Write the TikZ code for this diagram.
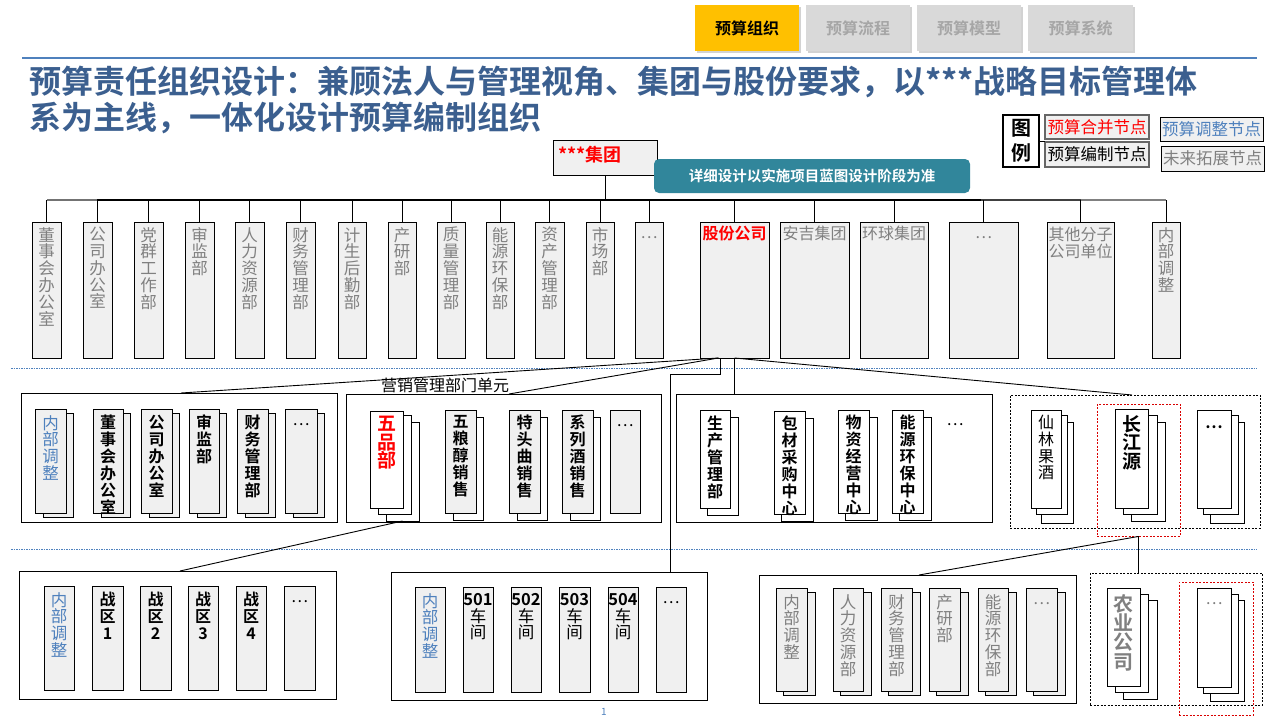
\documentclass[tikz,border=0pt]{standalone}
\usepackage{fontspec}
\setmainfont{Noto Sans CJK SC}[BoldFont={Noto Sans CJK SC Bold}]
\usetikzlibrary{shadows,calc}
\definecolor{ttlc}{RGB}{59,95,143}
\definecolor{lblue}{RGB}{79,129,189}
\definecolor{gtxt}{RGB}{128,128,128}
\definecolor{bfill}{RGB}{240,240,240}
\definecolor{tealc}{RGB}{49,134,155}
\definecolor{tabgold}{RGB}{255,192,0}
\definecolor{tabgray}{RGB}{217,217,217}
\definecolor{tabtxt}{RGB}{166,166,166}
\definecolor{sepblue}{RGB}{79,129,189}
\newcommand\bx[6][]{\node[bxs,minimum width={(#4)-(#2)},minimum height={(#5)-(#3)},#1] (#6) at ({((#2)+(#4))/2},{((#3)+(#5))/2}) {};}
\tikzset{
 bxs/.style={draw, line width=0.85pt, fill=bfill, inner sep=0pt, outer sep=0pt},
 wbx/.style={fill=white},
 grp/.style={fill=white, line width=0.95pt},
 dgrp/.style={fill=white, line width=0.9pt, dash pattern=on 2pt off 1.5pt},
 rdash/.style={fill=none, draw=red!85!black, line width=0.9pt, dash pattern=on 2pt off 1.5pt},
 tabbox/.style={draw=none, drop shadow={shadow xshift=1.5pt, shadow yshift=-1.5pt, opacity=0.35}},
 vtg/.style={inner sep=0pt, align=center, text=gtxt, font=\fontsize{16.5}{16.8}\selectfont},
 vtb/.style={inner sep=0pt, align=center, font=\bfseries\fontsize{16}{17}\selectfont},
 vtl/.style={inner sep=0pt, align=center, text=lblue, font=\fontsize{16.5}{16.8}\selectfont},
 vtr/.style={inner sep=0pt, align=center, text=red, font=\bfseries\fontsize{19}{18.5}\selectfont},
 vtB/.style={inner sep=0pt, align=center, font=\bfseries\fontsize{19}{18.5}\selectfont},
 vtG/.style={inner sep=0pt, align=center, text=gtxt, font=\bfseries\fontsize{20}{19.3}\selectfont},
 ttl/.style={inner sep=0pt, text=ttlc, font=\bfseries\fontsize{32}{36}\selectfont},
 lgt/.style={inner sep=0pt, font=\fontsize{16.5}{18}\selectfont},
 sep/.style={draw=sepblue, line width=1pt, dash pattern=on 1.5pt off 1pt},
 con/.style={draw, line width=0.9pt},
 dots/.style={inner sep=0pt, font=\fontsize{16}{16}\selectfont},
}
\begin{document}
\begin{tikzpicture}[x=1pt,y=-1pt]
\useasboundingbox[fill=white] (0,0) rectangle (1280,720);

% ---------- tabs
\bx[tabbox,fill=tabgold]{695}{5}{799}{51}{tab1}
\bx[tabbox,fill=tabgray]{806}{5}{910}{51}{tab2}
\bx[tabbox,fill=tabgray]{917}{5}{1021}{51}{tab3}
\bx[tabbox,fill=tabgray]{1028}{5}{1133}{51}{tab4}
\node[font=\bfseries\fontsize{16}{18}\selectfont] (tab1t) at (tab1) {预算组织};
\node[font=\bfseries\fontsize{16}{18}\selectfont,text=tabtxt] (tab2t) at (tab2) {预算流程};
\node[font=\bfseries\fontsize{16}{18}\selectfont,text=tabtxt] (tab3t) at (tab3) {预算模型};
\node[font=\bfseries\fontsize{16}{18}\selectfont,text=tabtxt] (tab4t) at (tab4) {预算系统};

\draw[draw=sepblue,line width=1.2pt] (22,58) -- (1257,58);

% ---------- title
\node[ttl,anchor=base west] (ttl1) at (29,93) {预算责任组织设计：兼顾法人与管理视角、集团与股份要求，以***战略目标管理体};
\node[ttl,anchor=base west] (ttl2) at (29,129) {系为主线，一体化设计预算编制组织};

% ---------- legend
\bx[fill=white,line width=2.6pt]{1003}{115}{1039}{167}{lgd}
\node[inner sep=0pt,align=center,font=\bfseries\fontsize{20}{25}\selectfont] (lgdt) at (lgd) {图\\例};
\bx[fill=bfill,draw=black!60,line width=1.6pt]{1045}{115}{1149}{139}{lg1}
\bx[fill=bfill,draw=black!60,line width=1.6pt]{1045}{142}{1149}{167}{lg2}
\bx[fill=bfill]{1160}{117}{1263}{141}{lg3}
\bx[fill=bfill]{1161}{146}{1264}{171}{lg4}
\node[lgt,text=red] (lg1t) at (lg1) {预算合并节点};
\node[lgt] (lg2t) at (lg2) {预算编制节点};
\node[lgt,text=lblue] (lg3t) at (lg3) {预算调整节点};
\node[lgt,text=gtxt] (lg4t) at (lg4) {未来拓展节点};
\draw[con] (lgd.east) -- (lgd.east -| lg1.west);

% ---------- group head
\bx{553}{140}{657}{175}{jt}
\node[anchor=north west,inner sep=0pt,text=red,font=\bfseries\fontsize{18}{20}\selectfont] (jtt) at (558,146) {***集团};
\node[fill=tealc,rounded corners=5pt,minimum width=316pt,minimum height=34pt,inner sep=0pt,text=white,font=\bfseries\fontsize{14.5}{16}\selectfont] (note) at (812,176) {详细设计以实施项目蓝图设计阶段为准};

% ---------- top row boxes
\foreach \n/\xa/\xb in {t1/32/61,t2/83/112,t3/134/163,t4/185/214,t5/235/264,t6/286/315,t7/338/366,t8/388/416,t9/437/465,t10/486/514,t11/535/564,t12/586/614,t13/635/663,gf/700/769,aj/780/849,hq/860/928,t17/949/1018,qt/1047/1114,nb/1152/1180}{
  \bx{\xa}{222}{\xb}{358}{\n}
}
\node[vtg,anchor=north] (t1-t) at ([yshift=-5pt]t1.north) {董\\事\\会\\办\\公\\室};
\node[vtg,anchor=north] (t2-t) at ([yshift=-5pt]t2.north) {公\\司\\办\\公\\室};
\node[vtg,anchor=north] (t3-t) at ([yshift=-5pt]t3.north) {党\\群\\工\\作\\部};
\node[vtg,anchor=north] (t4-t) at ([yshift=-5pt]t4.north) {审\\监\\部};
\node[vtg,anchor=north] (t5-t) at ([yshift=-5pt]t5.north) {人\\力\\资\\源\\部};
\node[vtg,anchor=north] (t6-t) at ([yshift=-5pt]t6.north) {财\\务\\管\\理\\部};
\node[vtg,anchor=north] (t7-t) at ([yshift=-5pt]t7.north) {计\\生\\后\\勤\\部};
\node[vtg,anchor=north] (t8-t) at ([yshift=-5pt]t8.north) {产\\研\\部};
\node[vtg,anchor=north] (t9-t) at ([yshift=-5pt]t9.north) {质\\量\\管\\理\\部};
\node[vtg,anchor=north] (t10-t) at ([yshift=-5pt]t10.north) {能\\源\\环\\保\\部};
\node[vtg,anchor=north] (t11-t) at ([yshift=-5pt]t11.north) {资\\产\\管\\理\\部};
\node[vtg,anchor=north] (t12-t) at ([yshift=-5pt]t12.north) {市\\场\\部};
\node[dots,text=gtxt] (t13-t) at ([yshift=-16pt]t13.north) {…};
\node[inner sep=0pt,anchor=north,text=red,font=\bfseries\fontsize{16}{18}\selectfont] (gf-t) at ([yshift=-4pt]gf.north) {股份公司};
\node[inner sep=0pt,anchor=north,text=gtxt,font=\fontsize{16}{18}\selectfont] (aj-t) at ([yshift=-4pt]aj.north) {安吉集团};
\node[inner sep=0pt,anchor=north,text=gtxt,font=\fontsize{16}{18}\selectfont] (hq-t) at ([yshift=-4pt]hq.north) {环球集团};
\node[dots,text=gtxt] (t17-t) at ([yshift=-16pt]t17.north) {…};
\node[inner sep=0pt,anchor=north,align=center,text=gtxt,font=\fontsize{16}{17}\selectfont] (qt-t) at ([yshift=-5pt]qt.north) {其他分子\\公司单位};
\node[vtg,anchor=north] (nb-t) at ([yshift=-5pt]nb.north) {内\\部\\调\\整};

% bus
\coordinate (busL) at (47,200);
\coordinate (busR) at (1166,200);
\draw[con] (jt.south) -- (jt.south |- busL);
\draw[line width=2pt] (busL) -- (busR);
\draw[line width=2pt,black!55] (busL) -- ($(busL)+(50,0)$);
\draw[line width=2pt,black!75] ($(busR)+(-185,0)$) -- ($(busR)+(-85,0)$);
\draw[line width=2pt,black!50] ($(busR)+(-85,0)$) -- (busR);
\foreach \n in {t1,t2,t3,t4,t5,t6,t7,t8,t9,t10,t11,t12,t13,gf,aj,hq,t17,qt,nb}{
  \draw[con] (\n.north |- busL) -- (\n.north);
}

% separators
\draw[sep] (11,368) -- (1257,368);
\draw[sep] (11,549) -- (1257,549);

% ---------- second level groups
\bx[grp]{21}{393}{337}{522}{gA}
\bx[grp]{346}{394}{661}{522}{gB}
\bx[grp]{676}{394}{992}{522}{gC}
\bx[dgrp]{1010}{395}{1260}{528}{gD}
\node[inner sep=0pt,font=\fontsize{16}{18}\selectfont] (gBl) at (445,385) {营销管理部门单元};

% connectors from 股份公司
\coordinate (gfa) at ([xshift=-16pt]gf.south);
\coordinate (gfe) at ([xshift=-14pt]gf.south);
\draw[con] (gfa) -- ([xshift=160pt]gA.north west);
\draw[con] (gfa) -- ([xshift=163pt]gB.north west);
\draw[con] (gf.south) -- (gf.south |- gC.north);
\draw[con] (gf.south) -- ([xshift=122pt]gD.north west);

% group A
\foreach \n/\xa/\xb in {a1/35/66,a2/93/123,a3/141/172,a4/189/219,a5/237/268,a6/285/317}{
  \bx{\xa+8}{413}{\xb+7}{517}{\n-b}
  \bx{\xa}{409}{\xb}{513}{\n}
}
\node[vtl,anchor=north] (a1-t) at ([yshift=-6pt]a1.north) {内\\部\\调\\整};
\node[vtb,anchor=north] (a2-t) at ([yshift=-6pt]a2.north) {董\\事\\会\\办\\公\\室};
\node[vtb,anchor=north] (a3-t) at ([yshift=-6pt]a3.north) {公\\司\\办\\公\\室};
\node[vtb,anchor=north] (a4-t) at ([yshift=-6pt]a4.north) {审\\监\\部};
\node[vtb,anchor=north] (a5-t) at ([yshift=-6pt]a5.north) {财\\务\\管\\理\\部};
\node[dots] (a6-t) at ([yshift=-16pt]a6.north) {…};

% group B
\bx[wbx]{386}{422}{419}{521}{wp-b2}
\bx[wbx]{378}{415}{411}{514}{wp-b1}
\bx[wbx]{370}{411}{403}{508}{wp}
\node[vtr,anchor=north] (wp-t) at ([yshift=-5pt]wp.north) {五\\品\\部};
\foreach \n/\xa/\xb in {b2/445/476,b3/509/540,b4/562/593}{
  \bx[wbx]{\xa+8}{417}{\xb+7}{520}{\n-b}
  \bx{\xa}{410}{\xb}{513}{\n}
}
\node[vtb,anchor=north] (b2-t) at ([yshift=-5pt]b2.north) {五\\粮\\醇\\销\\售};
\node[vtb,anchor=north] (b3-t) at ([yshift=-5pt]b3.north) {特\\头\\曲\\销\\售};
\node[vtb,anchor=north] (b4-t) at ([yshift=-5pt]b4.north) {系\\列\\酒\\销\\售};
\bx{610}{410}{640}{513}{b5}
\node[dots] (b5-t) at ([yshift=-16pt]b5.north) {…};

% group C
\foreach \n/\xa/\xb/\ya/\yb in {c1/700/730/410/508,c2/774/805/411/514,c3/838/869/410/513,c4/892/923/410/513}{
  \bx[wbx]{\xa+7}{\ya+7}{\xb+8}{\yb+7}{\n-b}
  \bx[wbx]{\xa}{\ya}{\xb}{\yb}{\n}
}
\node[vtb,anchor=north] (c1-t) at ([yshift=-6pt]c1.north) {生\\产\\管\\理\\部};
\node[vtb,anchor=north] (c2-t) at ([yshift=-5pt]c2.north) {包\\材\\采\\购\\中\\心};
\node[vtb,anchor=north] (c3-t) at ([yshift=-5pt]c3.north) {物\\资\\经\\营\\中\\心};
\node[vtb,anchor=north] (c4-t) at ([yshift=-5pt]c4.north) {能\\源\\环\\保\\中\\心};
\node[dots] (c5-t) at (955,425) {…};

% group D
\node[rdash,minimum width=83pt,minimum height=132pt,inner sep=0pt] (rdD) at (1138.5,470) {};
\bx[wbx]{1041}{422}{1073}{523}{d1-b2}
\bx[wbx]{1036}{415}{1067}{514}{d1-b1}
\bx[wbx]{1031}{410}{1061}{508}{d1}
\node[vtb,anchor=north,font=\fontsize{16}{16.7}\selectfont] (d1-t) at ([yshift=-5pt]d1.north) {仙\\林\\果\\酒};
\bx[wbx]{1131}{422}{1165}{521}{d2-b2}
\bx[wbx]{1123}{415}{1157}{514}{d2-b1}
\bx[wbx]{1115}{409}{1148}{508}{d2}
\node[vtB,anchor=north] (d2-t) at ([yshift=-6pt]d2.north) {长\\江\\源};
\bx[wbx]{1210}{422}{1244}{523}{d3-b2}
\bx[wbx]{1203}{415}{1238}{514}{d3-b1}
\bx[wbx]{1197}{410}{1231}{508}{d3}
\node[dots,font=\bfseries\fontsize{16}{16}\selectfont] (d3-t) at ([yshift=-17pt]d3.north) {…};

% ---------- third level
\node[text=lblue,inner sep=0pt,font=\fontsize{10}{10}\selectfont] (pg) at (604,712) {1};
\bx[grp]{19}{571}{336}{699}{gE}
\bx[grp]{391}{572}{707}{700}{gF}
\bx[grp]{759}{575}{1076}{703}{gG}
\bx[dgrp]{1090}{573}{1262}{705}{gH}

\draw[con] (gfe) -- ++(0,16) -| ([xshift=-37pt]gF.north east);
\draw[con] (wp-b2.south) -- ([xshift=161pt]gE.north west);
\draw[con] (rdD.south) -- (rdD.south |- gH.north);
\draw[con] (rdD.south) -- ([xshift=160pt]gG.north west);

% group E
\foreach \n/\xa/\xb in {e1/44/74,e2/92/123,e3/140/171,e4/188/218,e5/236/266,e6/284/315}{
  \bx{\xa}{586}{\xb}{690}{\n}
}
\node[vtl,anchor=north] (e1-t) at ([yshift=-6pt]e1.north) {内\\部\\调\\整};
\node[vtb,anchor=north] (e2-t) at ([yshift=-6pt]e2.north) {战\\区\\1};
\node[vtb,anchor=north] (e3-t) at ([yshift=-6pt]e3.north) {战\\区\\2};
\node[vtb,anchor=north] (e4-t) at ([yshift=-6pt]e4.north) {战\\区\\3};
\node[vtb,anchor=north] (e5-t) at ([yshift=-6pt]e5.north) {战\\区\\4};
\node[dots] (e6-t) at ([yshift=-16pt]e6.north) {…};

% group F
\foreach \n/\xa/\xb in {f1/415/445,f2/463/493,f3/511/541,f4/559/590,f5/608/638,f6/656/686}{
  \bx{\xa}{587}{\xb}{692}{\n}
}
\node[vtl,anchor=north] (f1-t) at ([yshift=-6pt]f1.north) {内\\部\\调\\整};
\node[vtg,text=black,anchor=north] (f2-t) at ([yshift=-6pt]f2.north) {\bfseries 501\\车\\间};
\node[vtg,text=black,anchor=north] (f3-t) at ([yshift=-6pt]f3.north) {\bfseries 502\\车\\间};
\node[vtg,text=black,anchor=north] (f4-t) at ([yshift=-6pt]f4.north) {\bfseries 503\\车\\间};
\node[vtg,text=black,anchor=north] (f5-t) at ([yshift=-6pt]f5.north) {\bfseries 504\\车\\间};
\node[dots] (f6-t) at ([yshift=-16pt]f6.north) {…};

% group G
\foreach \n/\xa/\xb in {g1/776/807,g2/833/863,g3/881/912,g4/929/960,g5/978/1008,g6/1026/1057}{
  \bx{\xa+7}{592}{\xb+8}{695}{\n-b}
  \bx{\xa}{588}{\xb}{691}{\n}
}
\node[vtg,anchor=north] (g1-t) at ([yshift=-6pt]g1.north) {内\\部\\调\\整};
\node[vtg,anchor=north] (g2-t) at ([yshift=-6pt]g2.north) {人\\力\\资\\源\\部};
\node[vtg,anchor=north] (g3-t) at ([yshift=-6pt]g3.north) {财\\务\\管\\理\\部};
\node[vtg,anchor=north] (g4-t) at ([yshift=-6pt]g4.north) {产\\研\\部};
\node[vtg,anchor=north] (g5-t) at ([yshift=-6pt]g5.north) {能\\源\\环\\保\\部};
\node[dots,text=gtxt] (g6-t) at ([yshift=-16pt]g6.north) {…};

% group H
\bx[wbx]{1123}{600}{1157}{699}{h1-b2}
\bx[wbx]{1115}{594}{1148}{692}{h1-b1}
\bx[wbx]{1107}{588}{1140}{686}{h1}
\node[vtG,anchor=north] (h1-t) at ([yshift=-6pt]h1.north) {农\\业\\公\\司};
\node[rdash,minimum width=74pt,minimum height=133pt,inner sep=0pt] (rdH) at (1216,648.5) {};
\bx[wbx]{1210}{600}{1244}{701}{h2-b2}
\bx[wbx]{1203}{594}{1238}{693}{h2-b1}
\bx[wbx]{1197}{588}{1231}{687}{h2}
\node[dots,text=gtxt] (h2-t) at ([yshift=-16pt]h2.north) {…};
\end{tikzpicture}
\end{document}
